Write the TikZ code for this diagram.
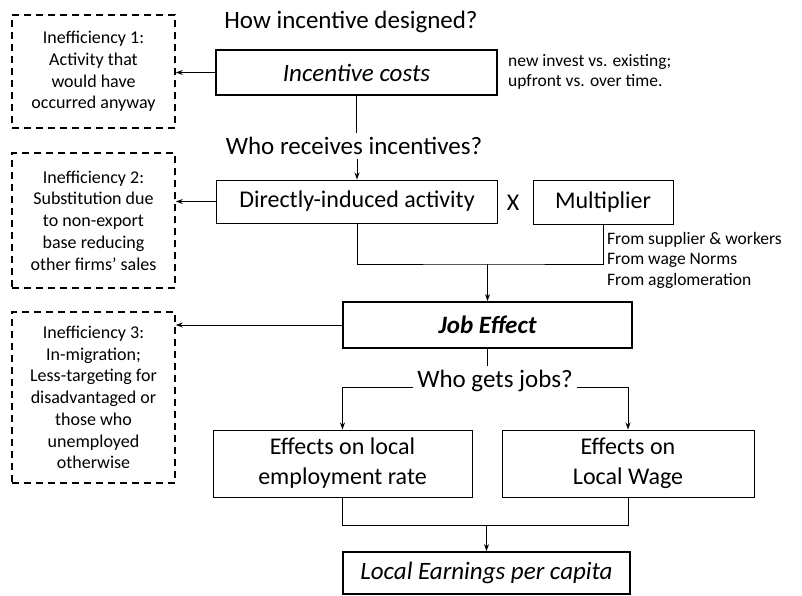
\documentclass[tikz,border=0pt]{standalone}
\usepackage{fontspec}
\setmainfont{Carlito}
\usetikzlibrary{arrows.meta}
\begin{document}
\begin{tikzpicture}[x=1pt,y=-1pt,
  box/.style={draw, line width=1pt, inner sep=0pt, align=center, font=\fontsize{24}{30}\selectfont},
  boldbox/.style={box, line width=1.8pt},
  ineff/.style={draw, line width=1.6pt, dash pattern=on 7pt off 5pt, inner sep=0pt, align=center, minimum width=163pt, font=\fontsize{18}{21.7}\selectfont},
  ttl/.style={inner sep=0pt, outer sep=4pt, font=\fontsize{25}{30}\selectfont},
  side/.style={inner sep=0pt, align=left, anchor=west, font=\fontsize{17.5}{20.5}\selectfont},
  arr/.style={line width=1pt, -{Stealth[length=7pt,width=5pt]}},
  link/.style={line width=0.8pt}
]
\useasboundingbox (0,0) rectangle (802,595);

\node[ttl] (t1) at (351,22) {How incentive designed?};
\node[boldbox, minimum width=281pt, minimum height=45pt, font=\fontsize{25}{30}\selectfont\itshape] (inc) at (356.5,72.5) {Incentive costs};
\node[side] (s1) at (508,72) {new invest vs. existing;\\upfront vs. over time.};
\node[ineff, minimum height=113pt] (e1) at (93.5,71.5) {Inefficiency 1:\\Activity that\\would have\\occurred anyway};

\node[ttl] (t2) at (354,146) {Who receives incentives?};
\node[box, minimum width=281pt, minimum height=43pt] (dir) at (357,201.5) {Directly-induced activity};
\node[box, draw=none] (x) at (513,203) {X};
\node[box, minimum width=140pt, minimum height=44pt] (mul) at (603,202) {Multiplier};
\node[ineff, minimum height=135pt] (e2) at (93.5,220.5) {Inefficiency 2:\\Substitution due\\to non-export\\base reducing\\other firms' sales};
\node[side] (s2) at (607,260) {From supplier \& workers\\From wage Norms\\From agglomeration};

\node[boldbox, minimum width=289pt, minimum height=46pt, font=\fontsize{25}{30}\selectfont\bfseries\itshape] (job) at (487.5,325) {Job Effect};
\node[ineff, minimum height=171pt] (e3) at (93.5,397.5) {Inefficiency 3:\\In-migration;\\Less-targeting for\\disadvantaged or\\those who\\unemployed\\otherwise};

\node[ttl] (t3) at (495,381) {Who gets jobs?};
\node[box, minimum width=259pt, minimum height=67pt] (effL) at (342.5,463.5) {Effects on local\\employment rate};
\node[box, minimum width=252pt, minimum height=67pt] (effR) at (628,463.5) {Effects on\\Local Wage};
\node[boldbox, minimum width=287pt, minimum height=42pt, font=\fontsize{25}{30}\selectfont\itshape] (loc) at (486.5,573) {Local Earnings per capita};

% connectors
\draw[arr] (inc.west) -- (e1.east |- inc.west);
\draw[arr] (dir.west) -- (e2.east |- dir.west);
\draw[arr] (job.west) -- (e3.east |- job.west);

\draw[link] (inc.south) -- (inc.south |- t2.north);
\draw[arr] (dir.north |- t2.south) -- (dir.north);

\coordinate (m1) at (487.5,264);
\draw[link] (dir.south) |- (m1) -| (mul.south);
\draw[arr] (m1) -- (job.north);

\draw[link] (job.south) -- (job.south |- t3.north);
\draw[arr] (t3.base west) -| (effL.north);
\draw[arr] (t3.base east) -| (effR.north);

\coordinate (m2) at (486.5,525);
\draw[link] (effL.south) |- (m2) -| (effR.south);
\draw[arr] (m2) -- (loc.north);
\end{tikzpicture}
\end{document}
